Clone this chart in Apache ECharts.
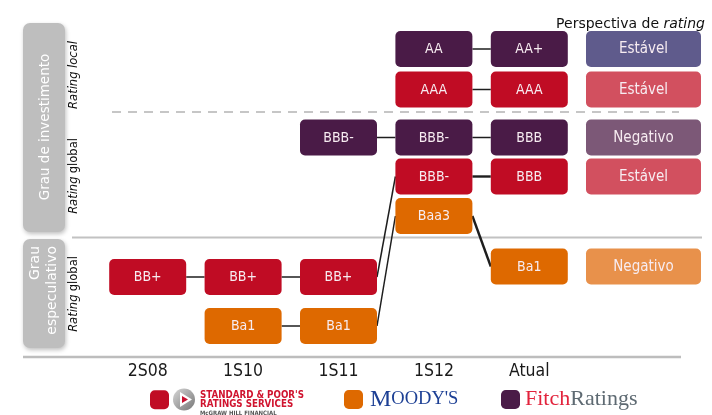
<!DOCTYPE html>
<html><head><meta charset="utf-8">
<script src="https://cdn.jsdelivr.net/npm/echarts@6/dist/echarts.min.js"></script>
<style>html,body{margin:0;padding:0;background:#fff}#c{width:712px;height:415px}</style>
</head><body><div id="c"></div>
<script>
// ---- data ----
const periods = ['2S08', '1S10', '1S11', '1S12', 'Atual'];
const spGlobal = ['BB+', 'BB+', 'BB+', 'BBB-', 'BBB'];
const spGlobalLevel = [8.0, 8.0, 8.0, 18.05, 18.05];
const spLocal = [null, null, null, 'AAA', 'AAA'];
const spLocalLevel = [null, null, null, 26.75, 26.75];
const moodysGlobal = [null, 'Ba1', 'Ba1', 'Baa3', 'Ba1'];
const moodysLevel = [null, 3.1, 3.1, 14.1, 9.05];
const fitchGlobal = [null, null, 'BBB-', 'BBB-', 'BBB'];
const fitchGlobalLevel = [null, null, 21.95, 21.95, 21.95];
const fitchLocal = [null, null, null, 'AA', 'AA+'];
const fitchLocalLevel = [null, null, null, 30.8, 30.8];
const outlookCategory = ['Perspectiva'];
const outlookLabels = ['Estável', 'Estável', 'Negativo', 'Estável', 'Negativo'];
const outlookLevels = [30.8, 26.75, 21.95, 18.05, 9.05];
const outlookColors = ['#5F5B8C', '#D2505F', '#7C5877', '#D2505F', '#E8914B'];

const SP = '#C00C24', MD = '#DE6900', FT = '#4A1B47';
const BOXW = 77, BOXH = 36, OUTW = 115;
const BOXFONT = '"DejaVu Sans Condensed", "DejaVu Sans", sans-serif';
const NARROW = '"Liberation Sans Narrow", "DejaVu Sans Condensed", sans-serif';

// fit a text's font size to a target width
const mctx = document.createElement('canvas').getContext('2d');
function fitSize(text, family, weight, target) {
  mctx.font = weight + ' 100px ' + family;
  return 100 * target / mctx.measureText(text).width;
}
const spFont = fitSize("STANDARD & POOR'S", NARROW, 'bold', 104);

function boxSeries(name, labels, levels, color, axis, w, colors, fontSize) {
  const items = [];
  labels.forEach((t, i) => { if (t !== null) items.push({ value: [axis === 1 ? 0 : i, levels[i]], text: t, color: colors ? colors[i] : color }); });
  return {
    type: 'custom', name: name, xAxisIndex: axis, yAxisIndex: axis, z: 3, silent: true,
    itemStyle: { color: color },
    data: items.map(d => d.value),
    renderItem: function (params, api) {
      const d = items[params.dataIndex];
      const p = api.coord(d.value);
      return { type: 'group', children: [
        { type: 'rect', shape: { x: p[0] - w / 2, y: p[1] - BOXH / 2, width: w, height: BOXH, r: 5 }, style: { fill: d.color } },
        { type: 'text', style: { text: d.text, x: p[0], y: p[1] + 0.5, align: 'center', verticalAlign: 'middle', fill: '#F7ECF1', fontSize: fontSize, fontFamily: BOXFONT } }
      ] };
    }
  };
}
function linkSeries(labels, levels, thickLast) {
  const segs = [];
  for (let i = 1; i < labels.length; i++) {
    if (labels[i] !== null && labels[i - 1] !== null) segs.push([i - 1, levels[i - 1], i, levels[i]]);
  }
  return {
    type: 'custom', z: 2, silent: true, xAxisIndex: 0, yAxisIndex: 0, data: segs,
    renderItem: function (params, api) {
      const a = api.coord([api.value(0), api.value(1)]);
      const b = api.coord([api.value(2), api.value(3)]);
      const lw = (thickLast && params.dataIndex === segs.length - 1) ? 2.4 : 1.5;
      return { type: 'line', shape: { x1: a[0] + BOXW / 2, y1: a[1], x2: b[0] - BOXW / 2, y2: b[1] }, style: { stroke: '#1e1e1e', lineWidth: lw } };
    }
  };
}

const chart = echarts.init(document.getElementById('c'));
const yBase = { type: 'value', min: 0, max: 35, show: false };
chart.setOption({
  animation: false,
  title: {
    text: '{n|Perspectiva de }{i|rating}', right: 2, top: 12,
    textStyle: { rich: {
      n: { fontSize: 14, fontFamily: 'DejaVu Sans', fontWeight: 'normal', color: '#111' },
      i: { fontSize: 14, fontFamily: 'DejaVu Sans', fontWeight: 'normal', fontStyle: 'italic', color: '#111' }
    } }
  },
  grid: [
    { left: 100, width: 477, top: 7, height: 350 },
    { left: 586, width: 115, top: 7, height: 350 }
  ],
  xAxis: [
    { type: 'category', gridIndex: 0, data: periods, boundaryGap: true,
      axisLine: { show: false }, axisTick: { show: false }, splitLine: { show: false },
      axisLabel: { fontSize: 17.5, color: '#1a1a1a', margin: 5, fontFamily: BOXFONT } },
    { type: 'category', gridIndex: 1, data: outlookCategory, show: false }
  ],
  yAxis: [Object.assign({ gridIndex: 0 }, yBase), Object.assign({ gridIndex: 1 }, yBase)],
  legend: [
    { left: 150, top: 390, padding: 0, itemWidth: 19, itemHeight: 19, icon: 'roundRect', selectedMode: false,
      data: [{ name: 'S&P', itemStyle: { color: SP } }],
      formatter: () => "{a|STANDARD & POOR'S}\n{a|RATINGS SERVICES}",
      textStyle: { padding: [0, 0, 0, 26], rich: { a: { fontSize: spFont, lineHeight: 9.5, fontWeight: 'bold', color: '#D0132E', fontFamily: NARROW } } } },
    { left: 344, top: 387.5, padding: 0, itemWidth: 19, itemHeight: 19, icon: 'roundRect', selectedMode: false,
      data: [{ name: "Moody's", itemStyle: { color: MD } }],
      formatter: () => "{m|M}{s|OODY'S}",
      textStyle: { padding: [0, 0, 0, 2], rich: {
        m: { fontSize: 24, color: '#1C3F94', fontFamily: 'Liberation Serif' },
        s: { fontSize: 18.5, color: '#1C3F94', fontFamily: 'Liberation Serif' } } } },
    { left: 501, top: 388.5, padding: 0, itemWidth: 19, itemHeight: 19, icon: 'roundRect', selectedMode: false,
      data: [{ name: 'Fitch', itemStyle: { color: FT } }],
      formatter: () => '{f|Fitch}{r|Ratings}',
      textStyle: { padding: [0, 0, 0, 0], rich: {
        f: { fontSize: 22, color: '#E2233C', fontFamily: 'Liberation Serif' },
        r: { fontSize: 22, color: '#5E6A72', fontFamily: 'Liberation Serif' } } } }
  ],
  graphic: [
    // left bands
    { type: 'rect', left: 23, top: 23, shape: { width: 42, height: 209, r: 7 }, style: { fill: '#BEBEBE', shadowBlur: 4, shadowOffsetX: 1, shadowOffsetY: 2, shadowColor: 'rgba(0,0,0,0.25)' }, z: 1 },
    { type: 'rect', left: 23, top: 239, shape: { width: 42, height: 109, r: 7 }, style: { fill: '#BEBEBE', shadowBlur: 4, shadowOffsetX: 1, shadowOffsetY: 2, shadowColor: 'rgba(0,0,0,0.25)' }, z: 1 },
    { type: 'text', x: 45, y: 127, rotation: Math.PI / 2, z: 2,
      style: { text: 'Grau de investimento', align: 'center', verticalAlign: 'middle', fill: '#fff', fontSize: 13.5, fontFamily: 'DejaVu Sans' } },
    { type: 'text', x: 44, y: 246, rotation: Math.PI / 2, z: 2,
      style: { text: 'Grau\nespeculativo', align: 'right', verticalAlign: 'middle', lineHeight: 17, fill: '#fff', fontSize: 14, fontFamily: 'DejaVu Sans' } },
    { type: 'text', x: 74, y: 75, rotation: Math.PI / 2, z: 2,
      style: { text: '{i|Rating local}', align: 'center', verticalAlign: 'middle', rich: { i: { fontSize: 11.5, fontStyle: 'italic', fill: '#111', fontFamily: 'DejaVu Sans' } } } },
    { type: 'text', x: 74, y: 176, rotation: Math.PI / 2, z: 2,
      style: { text: '{i|Rating} {n|global}', align: 'center', verticalAlign: 'middle', rich: { i: { fontSize: 11.5, fontStyle: 'italic', fill: '#111', fontFamily: 'DejaVu Sans' }, n: { fontSize: 11.5, fill: '#111', fontFamily: 'DejaVu Sans' } } } },
    { type: 'text', x: 74, y: 294, rotation: Math.PI / 2, z: 2,
      style: { text: '{i|Rating} {n|global}', align: 'center', verticalAlign: 'middle', rich: { i: { fontSize: 11.5, fontStyle: 'italic', fill: '#111', fontFamily: 'DejaVu Sans' }, n: { fontSize: 11.5, fill: '#111', fontFamily: 'DejaVu Sans' } } } },
    // separators
    { type: 'line', shape: { x1: 112, y1: 112, x2: 679, y2: 112 }, style: { stroke: '#C6C6C6', lineWidth: 2, lineDash: [9, 7] }, z: 1 },
    { type: 'line', shape: { x1: 72, y1: 237.5, x2: 702, y2: 237.5 }, style: { stroke: '#C2C2C2', lineWidth: 2 }, z: 1 },
    { type: 'line', shape: { x1: 23, y1: 357, x2: 681, y2: 357 }, style: { stroke: '#BDBDBD', lineWidth: 2.5 }, z: 1 },
    // S&P logo mark
    { type: 'circle', shape: { cx: 184, cy: 399.5, r: 11 }, style: { fill: new echarts.graphic.LinearGradient(0, 0, 1, 1, [{ offset: 0, color: '#D6D6D6' }, { offset: 1, color: '#777' }]) }, z: 5 },
    { type: 'polygon', shape: { points: [[180, 392], [192, 399.5], [180, 407]] }, style: { fill: '#fff' }, z: 6 },
    { type: 'polygon', shape: { points: [[182, 396], [188, 399.5], [182, 403]] }, style: { fill: '#C8102E' }, z: 7 },
    { type: 'text', x: 200, y: 410, style: { text: 'McGRAW HILL FINANCIAL', fontSize: 6, fill: '#555', fontFamily: BOXFONT, fontWeight: 'bold' }, z: 5 }
  ],
  series: [
    linkSeries(spGlobal, spGlobalLevel, true),
    linkSeries(spLocal, spLocalLevel, false),
    linkSeries(moodysGlobal, moodysLevel, true),
    linkSeries(fitchGlobal, fitchGlobalLevel, false),
    linkSeries(fitchLocal, fitchLocalLevel, false),
    boxSeries('S&P', spGlobal, spGlobalLevel, SP, 0, BOXW, null, 14),
    boxSeries('S&P', spLocal, spLocalLevel, SP, 0, BOXW, null, 14),
    boxSeries("Moody's", moodysGlobal, moodysLevel, MD, 0, BOXW, null, 14),
    boxSeries('Fitch', fitchGlobal, fitchGlobalLevel, FT, 0, BOXW, null, 14),
    boxSeries('Fitch', fitchLocal, fitchLocalLevel, FT, 0, BOXW, null, 14),
    boxSeries('Perspectiva', outlookLabels, outlookLevels, '#888', 1, OUTW, outlookColors, 15)
  ]
});
</script></body></html>
